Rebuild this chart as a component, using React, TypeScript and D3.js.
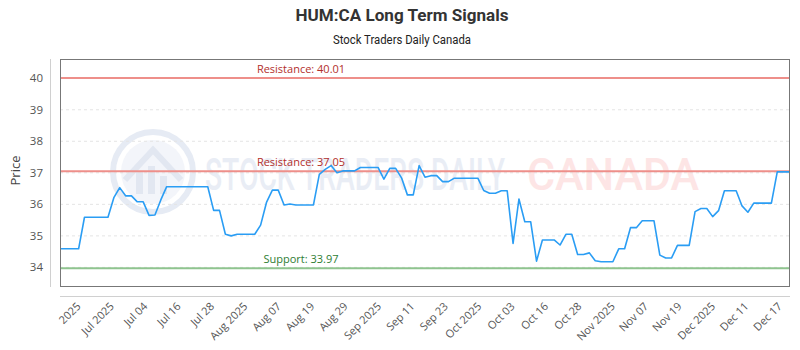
import React from "react";
import * as d3 from "d3";

const title = "HUM:CA Long Term Signals";
const subtitle = "Stock Traders Daily Canada";
const yAxisLabel = "Price";
const xTickLabels = ["2025", "Jul 2025", "Jul 04", "Jul 16", "Jul 28", "Aug 2025", "Aug 07", "Aug 19", "Aug 29", "Sep 2025", "Sep 11", "Sep 23", "Oct 2025", "Oct 03", "Oct 16", "Oct 28", "Nov 2025", "Nov 07", "Nov 19", "Dec 2025", "Dec 11", "Dec 17"];
const yTicks = [34, 35, 36, 37, 38, 39, 40];
const yDomain = [33.41, 40.61];
const prices = [
  34.59, 34.59, 34.59, 34.59, 35.59, 35.59, 35.59, 35.59, 35.59, 36.21,
  36.53, 36.27, 36.27, 36.08, 36.08, 35.65, 35.66, 36.14, 36.56, 36.56,
  36.56, 36.56, 36.56, 36.56, 36.56, 36.56, 35.81, 35.81, 35.05, 35.0,
  35.05, 35.05, 35.05, 35.05, 35.34, 36.06, 36.45, 36.45, 35.98, 36.01,
  35.98, 35.98, 35.98, 35.98, 36.95, 37.11, 37.23, 37.0, 37.06, 37.06,
  37.06, 37.17, 37.17, 37.17, 37.17, 36.8, 37.14, 37.14, 36.84, 36.3,
  36.3, 37.23, 36.86, 36.91, 36.91, 36.72, 36.72, 36.83, 36.83, 36.83,
  36.83, 36.83, 36.44, 36.35, 36.35, 36.43, 36.43, 34.76, 36.17, 35.45,
  35.45, 34.2, 34.87, 34.87, 34.87, 34.71, 35.05, 35.05, 34.41, 34.41,
  34.46, 34.21, 34.18, 34.18, 34.18, 34.59, 34.59, 35.26, 35.26, 35.48,
  35.48, 35.48, 34.39, 34.3, 34.3, 34.7, 34.7, 34.7, 35.77, 35.87,
  35.87, 35.61, 35.8, 36.43, 36.43, 36.43, 35.95, 35.75, 36.04, 36.04,
  36.04, 36.04, 37.03, 37.03, 37.03,
];
const levelNames = ["Resistance", "Resistance", "Support"];
const levelValues = [40.01, 37.05, 33.97];
const levelKinds = ["resistance", "resistance", "support"];

const W = 800;
const H = 350;
const plot = { left: 60, right: 790, top: 59, bottom: 286 };

export default function App() {
  const x = d3.scaleLinear().domain([0, prices.length - 1]).range([plot.left + 1, plot.right - 1]);
  const y = d3.scaleLinear().domain(yDomain).range([plot.bottom, plot.top]);
  const xt = d3.scalePoint<string>().domain(xTickLabels).range([plot.left + 1, plot.right - 1]).padding(0.4);
  const line = d3.line<number>().x((_, i) => x(i)).y((d) => y(d));
  const levelColor = (k: string) => (k === "support" ? "#8fc48f" : "#ee8f8a");
  const levelText = (k: string) => (k === "support" ? "#2e7d32" : "#b3302c");
  const font = "'Open Sans', sans-serif";

  return (
    <svg width={W} height={H} style={{ position: "absolute", left: 0, top: 0, background: "#fff" }}>
      <text x={402} y={21} textAnchor="middle" fontFamily="Roboto, sans-serif" fontWeight={700} fontSize={16.5} fill="#333" textLength={213} lengthAdjust="spacingAndGlyphs">{title}</text>
      <text x={402} y={44} textAnchor="middle" fontFamily="Roboto, sans-serif" fontSize={12} fill="#222" textLength={138} lengthAdjust="spacingAndGlyphs">{subtitle}</text>

      {/* watermark */}
      <g>
        <circle cx={153} cy={172} r={40} fill="none" stroke="#e6ebf4" strokeWidth={6} />
        <circle cx={153} cy={172} r={32} fill="#f3f5fa" />
        <path d="M125,180 L153,150 L181,180" fill="none" stroke="#e2e7f1" strokeWidth={6} />
        <rect x={136} y={172} width={7} height={22} fill="#e2e7f1" />
        <rect x={148} y={166} width={7} height={28} fill="#e2e7f1" />
        <rect x={160} y={176} width={7} height={18} fill="#e2e7f1" />
        <text x={205} y={190} fontFamily="Roboto, sans-serif" fontWeight={500} fontSize={44} fill="#e9edf5" textLength={300} lengthAdjust="spacingAndGlyphs">STOCK TRADERS DAILY</text>
        <text x={527} y={190} fontFamily="Roboto, sans-serif" fontWeight={500} fontSize={44} fill="#fde5e5" textLength={172} lengthAdjust="spacingAndGlyphs">CANADA</text>
      </g>

      {/* gridlines */}
      {yTicks.map((t) => (
        <line key={t} x1={plot.left} x2={plot.right} y1={y(t)} y2={y(t)} stroke="#e4e4e4" strokeDasharray="3,3" />
      ))}

      {/* levels */}
      {levelValues.map((v, i) => (
        <g key={i}>
          <line x1={plot.left} x2={plot.right} y1={y(v)} y2={y(v)} stroke={levelColor(levelKinds[i])} strokeWidth={2} />
          <text x={301} y={y(v) - 5} textAnchor="middle" fontFamily={font} fontSize={11} fill={levelText(levelKinds[i])}>
            {`${levelNames[i]}: ${v.toFixed(2)}`}
          </text>
        </g>
      ))}

      {/* price line */}
      <path d={line(prices) || ""} fill="none" stroke="#2a9df4" strokeWidth={1.6} strokeLinejoin="round" />

      {/* frame */}
      <rect x={plot.left + 0.5} y={plot.top + 0.5} width={plot.right - plot.left - 1} height={plot.bottom - plot.top} fill="none" stroke="#777" strokeWidth={1} />

      {/* axes lines */}
      <line x1={50.5} x2={50.5} y1={plot.top} y2={287} stroke="#d0d0d0" />
      <line x1={plot.left} x2={plot.right} y1={296.5} y2={296.5} stroke="#d0d0d0" />

      {/* y ticks */}
      {yTicks.map((t) => (
        <text key={t} x={43} y={y(t) + 4} textAnchor="end" fontFamily={font} fontSize={11.5} fill="#555">{t}</text>
      ))}
      <text transform={`translate(20,${(plot.top + plot.bottom) / 2 - 2}) rotate(-90)`} textAnchor="middle" fontFamily={font} fontSize={13} fill="#444">{yAxisLabel}</text>

      {/* x ticks */}
      {xTickLabels.map((l) => (
        <text key={l} transform={`translate(${(xt(l) as number) + 7},${307}) rotate(-45)`} textAnchor="end" fontFamily={font} fontSize={11} fill="#555">{l}</text>
      ))}
    </svg>
  );
}
